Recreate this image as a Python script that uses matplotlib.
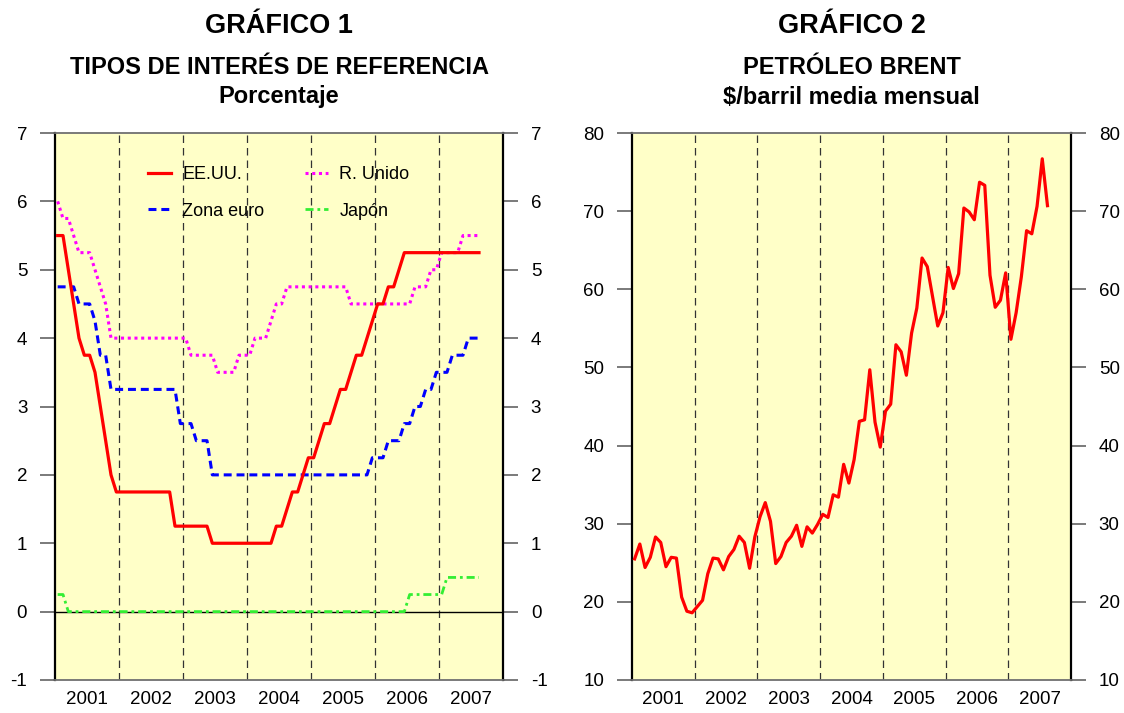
import numpy as np
import matplotlib
matplotlib.use("Agg")
import matplotlib.pyplot as plt

plt.rcParams['font.family'] = ['Liberation Sans', 'DejaVu Sans']

# ---------------- data ----------------
start_year = 2001
years = [2001, 2002, 2003, 2004, 2005, 2006, 2007]
year_labels = ['2001', '2002', '2003', '2004', '2005', '2006', '2007']

eeuu = [5.5, 5.5, 5.0, 4.5, 4.0, 3.75, 3.75, 3.5, 3.0, 2.5, 2.0, 1.75,
        1.75, 1.75, 1.75, 1.75, 1.75, 1.75, 1.75, 1.75, 1.75, 1.75, 1.25, 1.25,
        1.25, 1.25, 1.25, 1.25, 1.25, 1.0, 1.0, 1.0, 1.0, 1.0, 1.0, 1.0,
        1.0, 1.0, 1.0, 1.0, 1.0, 1.25, 1.25, 1.5, 1.75, 1.75, 2.0, 2.25,
        2.25, 2.5, 2.75, 2.75, 3.0, 3.25, 3.25, 3.5, 3.75, 3.75, 4.0, 4.25,
        4.5, 4.5, 4.75, 4.75, 5.0, 5.25, 5.25, 5.25, 5.25, 5.25, 5.25, 5.25,
        5.25, 5.25, 5.25, 5.25, 5.25, 5.25, 5.25, 5.25]

zona_euro = [4.75, 4.75, 4.75, 4.75, 4.5, 4.5, 4.5, 4.25, 3.75, 3.75, 3.25, 3.25,
             3.25, 3.25, 3.25, 3.25, 3.25, 3.25, 3.25, 3.25, 3.25, 3.25, 3.25, 2.75,
             2.75, 2.75, 2.5, 2.5, 2.5, 2.0, 2.0, 2.0, 2.0, 2.0, 2.0, 2.0,
             2.0, 2.0, 2.0, 2.0, 2.0, 2.0, 2.0, 2.0, 2.0, 2.0, 2.0, 2.0,
             2.0, 2.0, 2.0, 2.0, 2.0, 2.0, 2.0, 2.0, 2.0, 2.0, 2.0, 2.25,
             2.25, 2.25, 2.5, 2.5, 2.5, 2.75, 2.75, 3.0, 3.0, 3.25, 3.25, 3.5,
             3.5, 3.5, 3.75, 3.75, 3.75, 4.0, 4.0, 4.0]

r_unido = [6.0, 5.75, 5.75, 5.5, 5.25, 5.25, 5.25, 5.0, 4.75, 4.5, 4.0, 4.0,
           4.0, 4.0, 4.0, 4.0, 4.0, 4.0, 4.0, 4.0, 4.0, 4.0, 4.0, 4.0,
           4.0, 3.75, 3.75, 3.75, 3.75, 3.75, 3.5, 3.5, 3.5, 3.5, 3.75, 3.75,
           3.75, 4.0, 4.0, 4.0, 4.25, 4.5, 4.5, 4.75, 4.75, 4.75, 4.75, 4.75,
           4.75, 4.75, 4.75, 4.75, 4.75, 4.75, 4.75, 4.5, 4.5, 4.5, 4.5, 4.5,
           4.5, 4.5, 4.5, 4.5, 4.5, 4.5, 4.5, 4.75, 4.75, 4.75, 5.0, 5.0,
           5.25, 5.25, 5.25, 5.25, 5.5, 5.5, 5.5, 5.5]

japon = [0.25, 0.25, 0.0, 0.0, 0.0, 0.0, 0.0, 0.0, 0.0, 0.0, 0.0, 0.0,
         0.0, 0.0, 0.0, 0.0, 0.0, 0.0, 0.0, 0.0, 0.0, 0.0, 0.0, 0.0,
         0.0, 0.0, 0.0, 0.0, 0.0, 0.0, 0.0, 0.0, 0.0, 0.0, 0.0, 0.0,
         0.0, 0.0, 0.0, 0.0, 0.0, 0.0, 0.0, 0.0, 0.0, 0.0, 0.0, 0.0,
         0.0, 0.0, 0.0, 0.0, 0.0, 0.0, 0.0, 0.0, 0.0, 0.0, 0.0, 0.0,
         0.0, 0.0, 0.0, 0.0, 0.0, 0.0, 0.25, 0.25, 0.25, 0.25, 0.25, 0.25,
         0.25, 0.5, 0.5, 0.5, 0.5, 0.5, 0.5, 0.5]

brent = [25.5, 27.4, 24.4, 25.7, 28.3, 27.6, 24.5, 25.7, 25.6, 20.6, 18.8, 18.6,
         19.4, 20.2, 23.6, 25.6, 25.5, 24.1, 25.8, 26.7, 28.4, 27.6, 24.3, 28.3,
         30.9, 32.7, 30.3, 24.9, 25.8, 27.6, 28.4, 29.8, 27.1, 29.6, 28.8, 29.9,
         31.2, 30.8, 33.7, 33.4, 37.6, 35.2, 38.2, 43.1, 43.3, 49.7, 43.0, 39.8,
         44.4, 45.3, 52.9, 52.0, 49.0, 54.4, 57.6, 64.0, 62.9, 59.1, 55.3, 57.0,
         62.8, 60.1, 62.0, 70.4, 69.9, 68.9, 73.7, 73.3, 61.8, 57.7, 58.6, 62.1,
         53.6, 57.0, 61.6, 67.5, 67.1, 70.6, 76.7, 70.7]

rate_ticks = [-1, 0, 1, 2, 3, 4, 5, 6, 7]
brent_ticks = [10, 20, 30, 40, 50, 60, 70, 80]


def month_x(n):
    return start_year + (np.arange(n) + 0.5) / 12.0


BG = '#FFFFC8'
TICKC = '#707070'
TICKFS = 13.5

fig = plt.figure(figsize=(11.24, 7.13), dpi=100)
W, H = 1124, 713


def make_ax(left_px, right_px, top_px=133, bottom_px=680):
    ax = fig.add_axes([left_px / W, 1 - bottom_px / H,
                       (right_px - left_px) / W, (bottom_px - top_px) / H])
    ax.set_facecolor(BG)
    ax.set_xlim(2001, 2008)
    for s in ['left', 'right']:
        ax.spines[s].set_color('black')
        ax.spines[s].set_linewidth(1.6)
    for s in ['top', 'bottom']:
        ax.spines[s].set_color(TICKC)
        ax.spines[s].set_linewidth(1.3)
    ax.set_xticks([y + 0.5 for y in years])
    ax.set_xticklabels(year_labels)
    ax.tick_params(axis='x', length=0, pad=8, labelsize=TICKFS)
    ax.tick_params(axis='y', direction='out', length=11, width=1.3,
                   color=TICKC, labelsize=TICKFS, pad=9,
                   left=True, right=True, labelleft=True, labelright=True)
    for y in years[1:]:
        ax.axvline(y, color='#333333', lw=0.9, dashes=(6, 4), zorder=1)
    return ax


def titles(cx, t1, t2, t3):
    fig.text(cx / W, 1 - 26 / H, t1, ha='center', va='center',
             fontsize=19.5, fontweight='bold')
    fig.text(cx / W, 1 - 68 / H, t2, ha='center', va='center',
             fontsize=17, fontweight='bold')
    fig.text(cx / W, 1 - 97 / H, t3, ha='center', va='center',
             fontsize=17, fontweight='bold')


# ---------------- Chart 1 ----------------
ax1 = make_ax(55, 503)
ax1.set_ylim(-1, 7)
ax1.set_yticks(rate_ticks)
ax1.set_yticklabels([str(t) for t in rate_ticks])
ax1.axhline(0, color='black', lw=1.0, zorder=2)

x = month_x(len(eeuu))
ax1.plot(x, eeuu, color='#FF0000', lw=2.3, label='EE.UU.', zorder=5)
ax1.plot(x, zona_euro, color='#0000FF', lw=2.2, dashes=(2.6, 1.6), label='Zona euro', zorder=4)
ax1.plot(x, r_unido, color='#FF00FF', lw=2.2, dashes=(1.0, 1.2), label='R. Unido', zorder=4)
ax1.plot(x, japon, color='#33EE33', lw=2.0, dashes=(2.9, 1.4, 1.0, 1.4), label='Japón', zorder=4)

ax1.legend(loc='upper left', bbox_to_anchor=((148 - 55) / 448, (680 - 166) / 547),
           ncol=2, frameon=False, fontsize=13, borderpad=0, borderaxespad=0,
           handlelength=1.25, handletextpad=0.65, columnspacing=2.25, labelspacing=1.08)

titles((55 + 503) / 2, 'GRÁFICO 1', 'TIPOS DE INTERÉS DE REFERENCIA', 'Porcentaje')

# ---------------- Chart 2 ----------------
ax2 = make_ax(632, 1071)
ax2.set_ylim(10, 80)
ax2.set_yticks(brent_ticks)
ax2.set_yticklabels([str(t) for t in brent_ticks])
xb = month_x(len(brent))
ax2.plot(xb, brent, color='#FF0000', lw=2.3, zorder=5)

titles((632 + 1071) / 2, 'GRÁFICO 2', 'PETRÓLEO BRENT', '$/barril media mensual')

fig.savefig('out.png', dpi=100)
